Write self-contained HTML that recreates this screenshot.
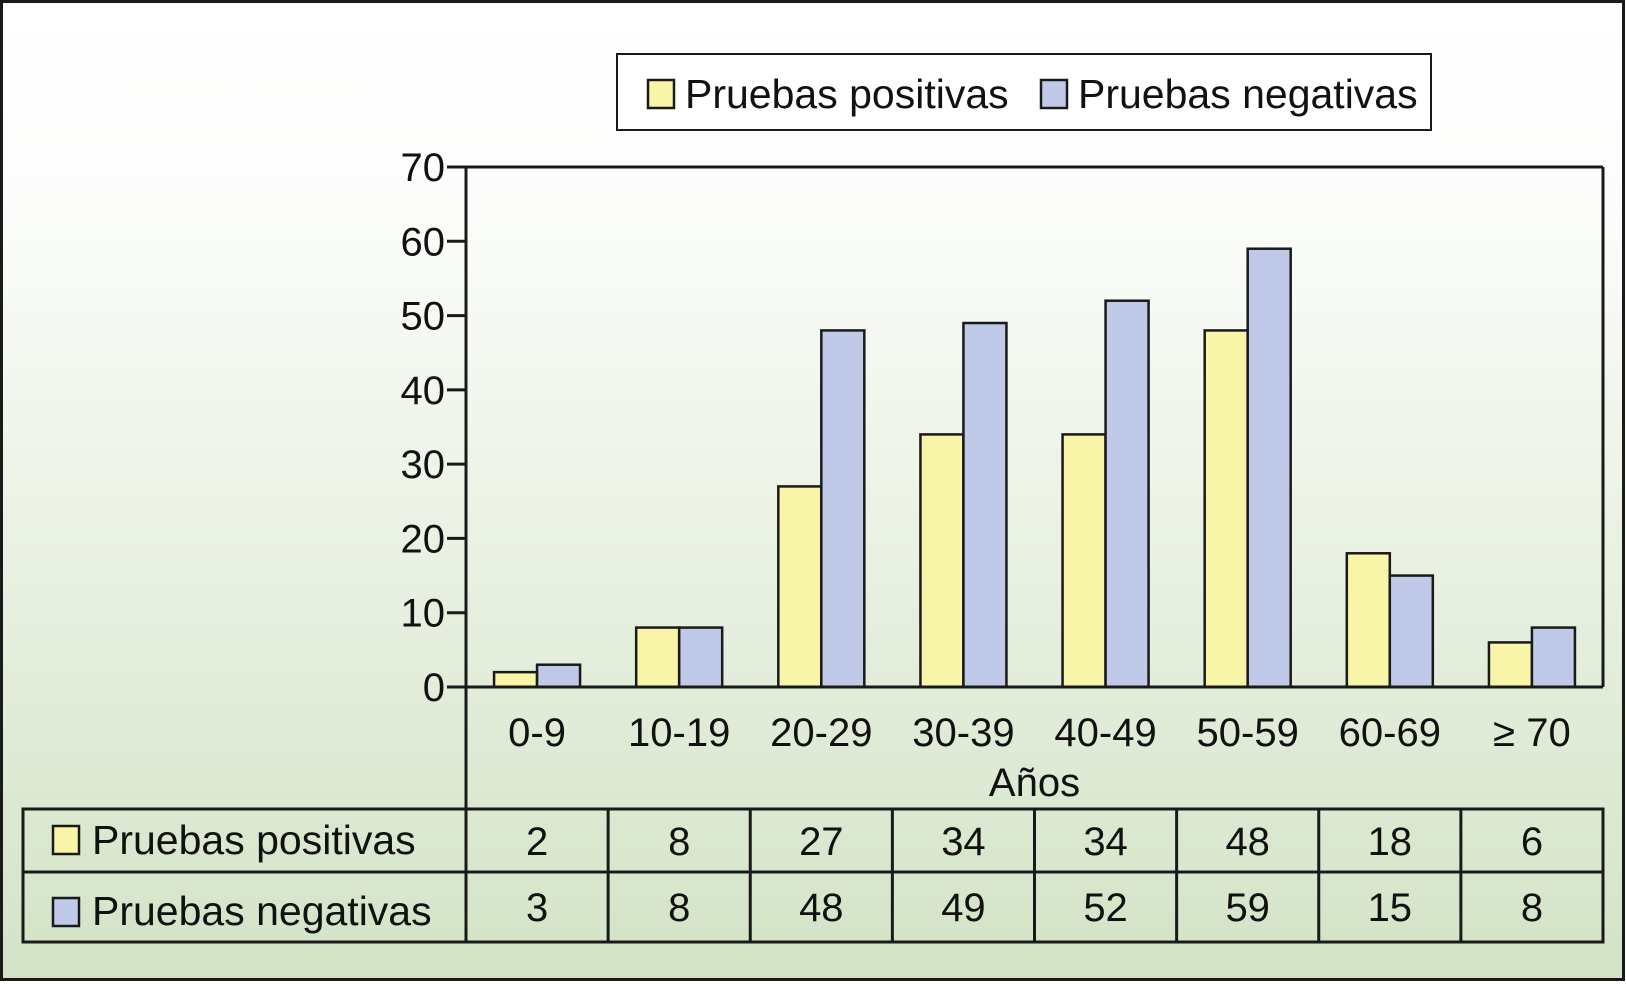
<!DOCTYPE html>
<html><head><meta charset="utf-8"><style>
html,body{margin:0;padding:0;}
body{width:1626px;height:983px;overflow:hidden;font-family:"Liberation Sans",sans-serif;}
svg text{font-family:"Liberation Sans",sans-serif;}
</style></head><body>
<svg id="chart" width="1626" height="983" xmlns="http://www.w3.org/2000/svg">
<defs>
<linearGradient id="bg" x1="0" y1="0" x2="0" y2="1">
<stop offset="0" stop-color="#ffffff"/>
<stop offset="0.2" stop-color="#fcfdfb"/>
<stop offset="1" stop-color="#d3e3c6"/>
</linearGradient>
</defs>
<rect x="1.5" y="1.5" width="1622" height="978" fill="url(#bg)" stroke="#1a1a1a" stroke-width="3"/>
<g id="legend">
<rect x="617" y="54" width="814" height="76" fill="#ffffff" stroke="#1a1a1a" stroke-width="2"/>
<rect x="648" y="80" width="26" height="28" fill="#f9f5a8" stroke="#1a1a1a" stroke-width="2.5"/>
<text x="685" y="108" font-size="41" fill="#111">Pruebas positivas</text>
<rect x="1041" y="80" width="26" height="28" fill="#c1c9e8" stroke="#1a1a1a" stroke-width="2.5"/>
<text x="1078" y="108" font-size="41" fill="#111">Pruebas negativas</text>
</g>
<g id="plot"></g>
</svg>
<script>
const categories = ["0-9","10-19","20-29","30-39","40-49","50-59","60-69","\u2265 70"];
const positivas = [2,8,27,34,34,48,18,6];
const negativas = [3,8,48,49,52,59,15,8];
const yTicks = [0,10,20,30,40,50,60,70];
const seriesNames = ["Pruebas positivas","Pruebas negativas"];

const NS="http://www.w3.org/2000/svg";
const g=document.getElementById('plot');
const X0=466, X1=1603, Y0=687, YT=167, YMAX=70;
const FS=40;
const colW=(X1-X0)/categories.length;
const y=v=>Y0-(v/YMAX)*(Y0-YT);
const xc=i=>X0+i*colW;
function mk(t,a){const e=document.createElementNS(NS,t);for(const k in a)e.setAttribute(k,a[k]);g.appendChild(e);return e;}
let e=mk('line',{x1:X0,y1:YT,x2:X1,y2:YT,stroke:'#1a1a1a','stroke-width':3});


e=mk('line',{x1:X1,y1:YT,x2:X1,y2:Y0,stroke:'#1a1a1a','stroke-width':3});


e=mk('line',{x1:X0,y1:YT,x2:X0,y2:942,stroke:'#1a1a1a','stroke-width':3});


yTicks.forEach(v=>{
 const t=mk('line',{x1:447,y1:y(v),x2:X0,y2:y(v),stroke:'#1a1a1a','stroke-width':3});
 
 
 const l=mk('text',{x:445,y:y(v)+14,'font-size':FS,'text-anchor':'end',fill:'#111'});
 l.textContent=v;
 
 
});
const bw=43, off=(colW-2*bw)/2;
categories.forEach((c,i)=>{
 const b1=mk('rect',{x:xc(i)+off,y:y(positivas[i]),width:bw,height:Y0-y(positivas[i]),fill:'#f9f5a8',stroke:'#1a1a1a','stroke-width':2.5});
 
 
 const b2=mk('rect',{x:xc(i)+off+bw,y:y(negativas[i]),width:bw,height:Y0-y(negativas[i]),fill:'#c1c9e8',stroke:'#1a1a1a','stroke-width':2.5});
 
 
 const l=mk('text',{x:xc(i)+colW/2,y:746,'font-size':FS,'text-anchor':'middle',fill:'#111'});
 l.textContent=c;
 
 
 const p=mk('text',{x:xc(i)+colW/2,y:855,'font-size':FS,'text-anchor':'middle',fill:'#111'});
 p.textContent=positivas[i];
 
 
 const n=mk('text',{x:xc(i)+colW/2,y:921,'font-size':FS,'text-anchor':'middle',fill:'#111'});
 n.textContent=negativas[i];
 
 
 if(i>0){const d=mk('line',{x1:xc(i),y1:809,x2:xc(i),y2:942,stroke:'#1a1a1a','stroke-width':3});
 
 }
});
e=mk('line',{x1:X0-2,y1:Y0,x2:X1,y2:Y0,stroke:'#1a1a1a','stroke-width':3});


e=mk('text',{x:(X0+X1)/2,y:796,'font-size':FS,'text-anchor':'middle',fill:'#111'});
e.textContent='Años';


e=mk('rect',{x:23,y:809,width:X1-23,height:133,fill:'none',stroke:'#1a1a1a','stroke-width':3});


e=mk('line',{x1:23,y1:872,x2:X1,y2:872,stroke:'#1a1a1a','stroke-width':3});


[['#f9f5a8',0],['#c1c9e8',1]].forEach(([c,r])=>{
 const s=mk('rect',{x:53,y:r?898:826,width:26,height:28,fill:c,stroke:'#1a1a1a','stroke-width':2.5});
 
 
 const t=mk('text',{x:92,y:r?925:854,'font-size':41,fill:'#111'});
 t.textContent=seriesNames[r];
 
 
});
</script>
</body></html>
